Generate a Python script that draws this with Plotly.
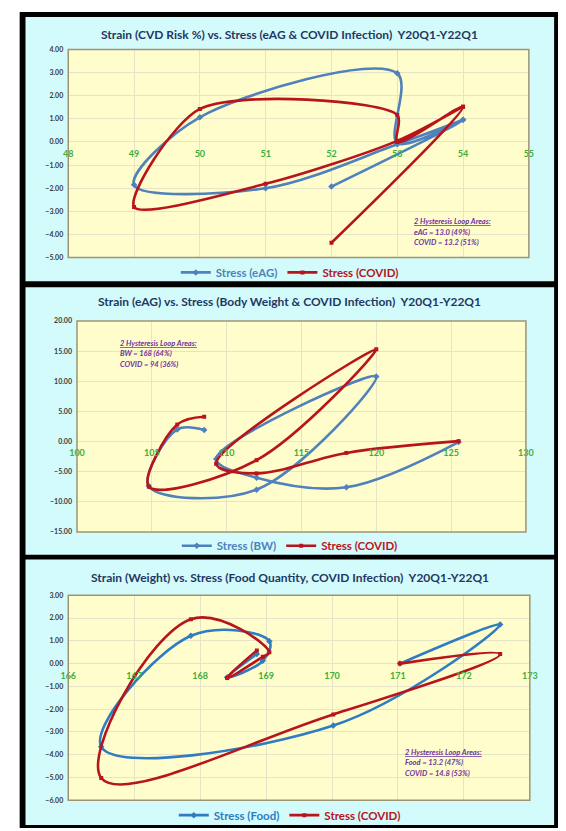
import plotly.graph_objects as go

W, H = 566, 831

# ---------------- data ----------------
# Panel 1: Strain (CVD Risk %) vs Stress (eAG & COVID)
p1_stress = [52, 54, 53, 53, 50, 49, 51, 53, 54]
p1_eag = [-1.93, 0.96, -0.05, 2.97, 1.07, -1.85, -2.0, -0.1, 0.96]
p1_covid = [-4.36, 1.53, 0.0, 1.17, 1.43, -2.81, -1.81, 0.05, 1.53]
p1_xticks = [48, 49, 50, 51, 52, 53, 54, 55]
p1_yticks = [4, 3, 2, 1, 0, -1, -2, -3, -4, -5]

# Panel 2: Strain (eAG) vs Stress (Body Weight & COVID)
p2_stress = [125.5, 118, 112, 109.3, 120, 112, 104.8, 106.7, 108.5]
p2_bw = [-0.1, -7.6, -6.0, -2.9, 10.8, -8.0, -7.4, 2.0, 1.9]
p2_covid = [0.05, -1.9, -5.3, -3.7, 15.3, -3.1, -7.5, 2.8, 4.1]
p2_xticks = [100, 105, 110, 115, 120, 125, 130]
p2_yticks = [20, 15, 10, 5, 0, -5, -10, -15]

# Panel 3: Strain (Weight) vs Stress (Food Quantity, COVID)
p3_stress = [171.03, 172.55, 170.02, 166.5, 167.86, 169.05, 168.95, 168.41, 168.86]
p3_food = [0.0, 1.72, -2.72, -3.65, 1.22, 0.98, 0.12, -0.6, 0.42]
p3_covid = [0.0, 0.42, -2.23, -5.02, 1.95, 0.5, 0.3, -0.63, 0.58]
p3_xticks = [166, 167, 168, 169, 170, 171, 172, 173]
p3_yticks = [3, 2, 1, 0, -1, -2, -3, -4, -5, -6]

titles = [
    "Strain (CVD Risk %) vs. Stress (eAG & COVID Infection)  Y20Q1-Y22Q1",
    "Strain (eAG) vs. Stress (Body Weight & COVID Infection)  Y20Q1-Y22Q1",
    "Strain (Weight) vs. Stress (Food Quantity, COVID Infection)  Y20Q1-Y22Q1",
]
series_names = [("Stress (eAG)", "Stress (COVID)"),
                ("Stress (BW)", "Stress (COVID)"),
                ("Stress (Food)", "Stress (COVID)")]
notes = [
    ["2 Hysteresis Loop Areas:", "eAG = 13.0 (49%)", "COVID = 13.2 (51%)"],
    ["2 Hysteresis Loop Areas:", "BW = 168 (64%)", "COVID = 94 (36%)"],
    ["2 Hysteresis Loop Areas:", "Food = 13.2 (47%)", "COVID = 14.8 (53%)"],
]

# ---------------- styling / layout geometry (pixels of the 566x831 canvas) ----------------
FONT = "Lato"
BLUE12 = "#4f81bd"
BLUE3 = "#2e7dc2"
RED = "#b8141b"
CYAN = "#d4fbfb"
YELLOW = "#fffdcb"
GRID = "#e6e3c6"
GREEN = "#3cae3c"
NAVY = "#1f3864"
PURPLE = "#7030a0"

areas = [(62, 536, 45, 255), (71, 533, 319, 532), (62, 537, 596, 803)]
panels = [(12, 279), (285, 555), (560, 828)]
title_y = [30, 299, 578]
legend_y = [270, 546, 818]
note_pos = [(416, 212), (113, 335), (407, 748)]
smooth = [(0.95, 0.8), (1.0, 1.0), (1.1, 1.2)]

data = [
    (p1_stress, p1_eag, p1_covid, p1_xticks, p1_yticks, BLUE12),
    (p2_stress, p2_bw, p2_covid, p2_xticks, p2_yticks, BLUE12),
    (p3_stress, p3_food, p3_covid, p3_xticks, p3_yticks, BLUE3),
]


def px(x):
    return x / W


def py(y):
    return 1 - y / H


fig = go.Figure()
shapes = []
annotations = []
layout = dict(
    autosize=True, margin=dict(l=0, r=0, t=0, b=0, pad=0),
    paper_bgcolor="white", plot_bgcolor="rgba(0,0,0,0)",
    showlegend=True,
)

shapes.append(dict(type="rect", xref="paper", yref="paper", layer="below",
                   x0=px(12), x1=px(566), y0=py(831), y1=py(7),
                   fillcolor="black", line=dict(width=0)))
for (t, b) in panels:
    shapes.append(dict(type="rect", xref="paper", yref="paper", layer="below",
                       x0=px(18), x1=px(562), y0=py(b), y1=py(t),
                       fillcolor=CYAN, line=dict(width=0)))

for i, (xs, y1s, y2s, xt, yt, bcol) in enumerate(data):
    k = i + 1
    sfx = "" if k == 1 else str(k)
    x0, x1, yt_px, yb_px = areas[i]
    ymin, ymax = min(yt), max(yt)
    xmin, xmax = min(xt), max(xt)
    dom_y = [py(yb_px), py(yt_px)]
    dom_x = [px(x0), px(x1)]
    zero_pos = dom_y[0] + (0 - ymin) / (ymax - ymin) * (dom_y[1] - dom_y[0])

    shapes.append(dict(type="rect", xref="paper", yref="paper", layer="below",
                       x0=dom_x[0], x1=dom_x[1], y0=dom_y[0], y1=dom_y[1],
                       fillcolor=YELLOW, line=dict(width=0)))
    shapes.append(dict(type="rect", xref="paper", yref="paper", layer="above",
                       x0=dom_x[0], x1=dom_x[1], y0=dom_y[0], y1=dom_y[1],
                       fillcolor="rgba(0,0,0,0)", line=dict(color="#9c9574", width=1.5)))

    layout["xaxis" + sfx] = dict(
        domain=dom_x, range=[xmin, xmax], tickvals=xt, ticktext=[str(v) for v in xt],
        showgrid=True, gridcolor=GRID, gridwidth=1, zeroline=False, showline=False,
        anchor="free", position=zero_pos, ticks="", ticklabelstandoff=5,
        tickfont=dict(family=FONT, size=9, color=GREEN, weight="bold"),
    )
    layout["yaxis" + sfx] = dict(
        domain=dom_y, range=[ymin, ymax], tickvals=yt, tickformat=".2f",
        showgrid=True, gridcolor=GRID, gridwidth=1, zeroline=False, showline=False,
        anchor="x" + sfx, ticks="", ticklabelstandoff=4,
        tickfont=dict(family=FONT, size=7, color="#3a3a3a", weight="bold"),
    )

    leg = "legend" + sfx
    n1, n2 = series_names[i]
    s1, s2 = smooth[i]
    fig.add_trace(go.Scatter(
        x=xs, y=y1s, mode="lines+markers", xaxis="x" + sfx, yaxis="y" + sfx,
        name=f'<span style="color:{bcol}">{n1}</span>', legend=leg,
        line=dict(color=bcol, width=2.6, shape="spline", smoothing=s1),
        marker=dict(symbol="diamond", size=5, color=bcol),
    ))
    fig.add_trace(go.Scatter(
        x=xs, y=y2s, mode="lines+markers", xaxis="x" + sfx, yaxis="y" + sfx,
        name=f'<span style="color:{RED}">{n2}</span>', legend=leg,
        line=dict(color=RED, width=2.6, shape="spline", smoothing=s2),
        marker=dict(symbol="square", size=4, color=RED),
    ))
    layout[leg] = dict(
        orientation="h", x=px(290), xanchor="center", y=py(legend_y[i]), yanchor="middle",
        bgcolor="rgba(0,0,0,0)", itemwidth=30, tracegroupgap=0,
        font=dict(family=FONT, size=11.5, weight="bold"),
    )

    annotations.append(dict(
        xref="paper", yref="paper", x=px(290), y=py(title_y[i]),
        xanchor="center", yanchor="middle", showarrow=False,
        text=f"<b>{titles[i]}</b>",
        font=dict(family=FONT, size=12, color=NAVY),
    ))
    nx, ny = note_pos[i]
    for j, ln in enumerate(notes[i]):
        txt = f"<b><i>{ln}</i></b>" if j else f"<b><i><u>{ln}</u></i></b>"
        annotations.append(dict(
            xref="paper", yref="paper", x=px(nx), y=py(ny + j * 10.7),
            xanchor="left", yanchor="top", showarrow=False, text=txt,
            font=dict(family=FONT, size=7.5, color=PURPLE),
        ))

layout["shapes"] = shapes
layout["annotations"] = annotations
fig.update_layout(**layout)
fig.write_html(
    "out.html",
    default_width="100vw",
    default_height="100vh",
    config={"responsive": True, "displayModeBar": False},
    post_script=(
        "document.documentElement.style.margin='0';"
        "document.body.style.margin='0';document.body.style.overflow='hidden';"
        "var gd=document.getElementById('{plot_id}');"
        "gd.style.width='100vw';gd.style.height='100vh';"
        "Plotly.Plots.resize(gd);"
    ),
)
